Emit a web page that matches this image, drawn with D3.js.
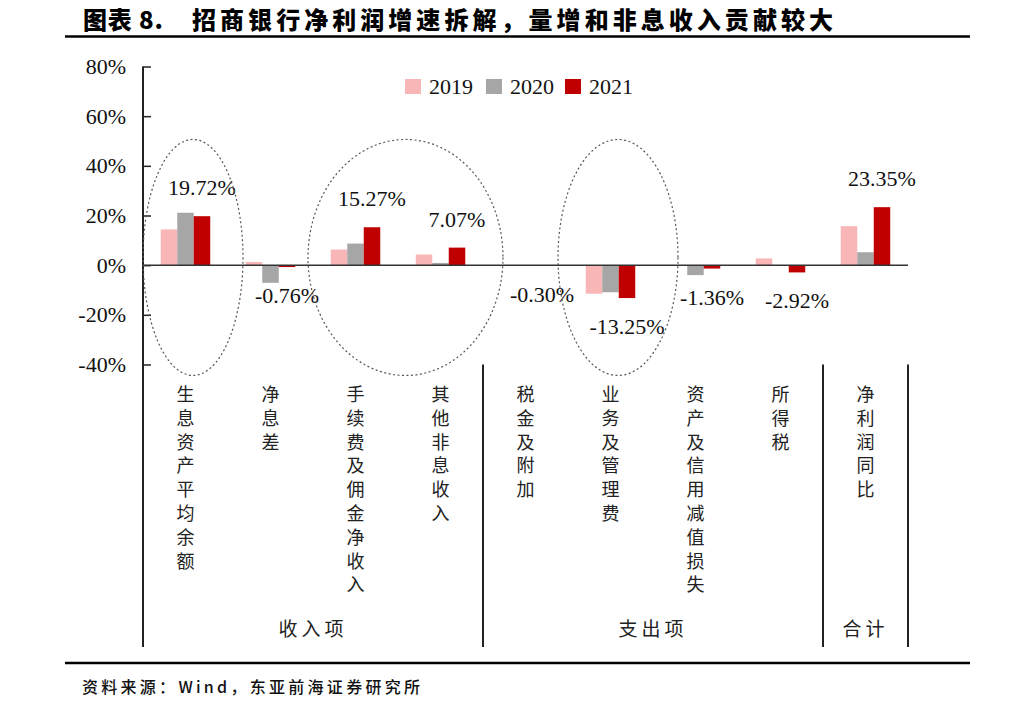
<!DOCTYPE html>
<html>
<head>
<meta charset="utf-8">
<script src="https://cdn.jsdelivr.net/npm/d3@7"></script>
<style>
  html, body { margin: 0; padding: 0; background: #fff; }
  svg { display: block; }
</style>
</head>
<body>
<svg id="chart" width="1034" height="710"></svg>
<script>
// ---------- data ----------
const categories = ["生息资产平均余额", "净息差", "手续费及佣金净收入", "其他非息收入",
                    "税金及附加", "业务及管理费", "资产及信用减值损失", "所得税", "净利润同比"];
const series = ["2019", "2020", "2021"];
const values2019 = [14.4, 1.3, 6.3, 4.3, -0.1, -11.5, 0.0, 2.7, 15.7];
const values2020 = [21.1, -7.1, 8.7, 0.9, -0.2, -10.9, -4.0, -0.3, 5.2];
const values2021 = [19.72, -0.76, 15.27, 7.07, -0.30, -13.25, -1.36, -2.92, 23.35];
const yTicks = [-40, -20, 0, 20, 40, 60, 80];
const groups = [
  { name: "收入项", from: 0, to: 3 },
  { name: "支出项", from: 4, to: 7 },
  { name: "合计", from: 8, to: 8 }
];
const highlights = [
  { from: 0, to: 0, rx: 50 },
  { from: 2, to: 3, rx: 97.5 },
  { from: 5, to: 5, rx: 60 }
];
const titleNum = "图表 8.";
const titleText = "招商银行净利润增速拆解，量增和非息收入贡献较大";
const sourceText = "资料来源：Wind，东亚前海证券研究所";
const colors = { "2019": "#F8B6B6", "2020": "#A6A6A6", "2021": "#C00000" };

const seriesValues = { "2019": values2019, "2020": values2020, "2021": values2021 };

(function () {
// ---------- layout ----------
const svg = d3.select("#chart");
const plotL = 143, plotR = 908, plotT = 66.5, plotB = 364.5, axisBottom = 647;
const serif = "'Liberation Serif', 'Times New Roman', serif";
const cjk = "'Noto Sans CJK SC', sans-serif";

const x0 = d3.scaleBand().domain(categories).range([plotL, plotR]).padding(0);
const groupW = 49.5;
const x1 = d3.scaleBand().domain(series)
  .range([(x0.bandwidth() - groupW) / 2, (x0.bandwidth() + groupW) / 2]).padding(0);
const y = d3.scaleLinear().domain([-40, 80]).range([plotB, plotT]);

// title
svg.append("text").attr("x", 83).attr("y", 28.5)
  .attr("font-family", cjk).attr("font-weight", 900).attr("font-size", 24)
  .attr("textLength", 80).attr("lengthAdjust", "spacing")
  .attr("fill", "#000").text(titleNum);
svg.append("text").attr("x", 192).attr("y", 28.5)
  .attr("font-family", cjk).attr("font-weight", 900).attr("font-size", 24)
  .attr("textLength", 641).attr("lengthAdjust", "spacing")
  .attr("fill", "#000").text(titleText);
svg.append("line").attr("x1", 65).attr("x2", 970).attr("y1", 36.5).attr("y2", 36.5)
  .attr("stroke", "#000").attr("stroke-width", 2.5);

// footer
svg.append("line").attr("x1", 65).attr("x2", 970).attr("y1", 663).attr("y2", 663)
  .attr("stroke", "#000").attr("stroke-width", 2.5);
svg.append("text").attr("x", 82).attr("y", 686).attr("dominant-baseline", "central")
  .attr("font-family", cjk).attr("font-weight", 500).attr("font-size", 16)
  .attr("textLength", 338).attr("lengthAdjust", "spacing")
  .attr("fill", "#111").text(sourceText);

// y axis
const yAxis = d3.axisRight(y).tickValues(yTicks).tickSize(8).tickFormat("");
const gy = svg.append("g").attr("transform", `translate(${plotL},0)`).call(yAxis);
gy.select(".domain").remove();
gy.selectAll(".tick line").attr("stroke", "#222").attr("stroke-width", 1.5);
svg.append("g").selectAll("text").data(yTicks).join("text")
  .attr("x", 126).attr("y", d => y(d)).attr("dominant-baseline", "central")
  .attr("text-anchor", "end").attr("font-family", serif).attr("font-size", 22)
  .attr("fill", "#111").text(d => d + "%");
svg.append("line").attr("x1", plotL).attr("x2", plotL).attr("y1", y(80)).attr("y2", axisBottom)
  .attr("stroke", "#222").attr("stroke-width", 2);

// separators
const seps = [x0(categories[4]), x0(categories[8]), plotR];
svg.append("g").selectAll("line").data(seps).join("line")
  .attr("x1", d => d).attr("x2", d => d).attr("y1", y(-40)).attr("y2", axisBottom)
  .attr("stroke", "#222").attr("stroke-width", 2);

// bars
const gBars = svg.append("g");
categories.forEach((c, i) => {
  series.forEach(s => {
    const v = seriesValues[s][i];
    gBars.append("rect")
      .attr("x", x0(c) + x1(s))
      .attr("width", x1.bandwidth())
      .attr("y", Math.min(y(v), y(0)))
      .attr("height", Math.abs(y(v) - y(0)))
      .attr("fill", colors[s]);
  });
});

// zero line
svg.append("line").attr("x1", plotL).attr("x2", plotR).attr("y1", y(0)).attr("y2", y(0))
  .attr("stroke", "#333").attr("stroke-width", 1.5);

// data labels (2021)
svg.append("g").selectAll("text").data(categories).join("text")
  .attr("x", (c) => x0(c) + x1("2021") + x1.bandwidth() / 2)
  .attr("y", (c, i) => values2021[i] >= 0 ? y(values2021[i]) - 21 : y(values2021[i]) + 36)
  .attr("text-anchor", "middle").attr("font-family", serif).attr("font-size", 22)
  .attr("fill", "#111").text((c, i) => values2021[i].toFixed(2) + "%");

// highlight ellipses
svg.append("g").selectAll("ellipse").data(highlights).join("ellipse")
  .attr("cx", d => (x0(categories[d.from]) + x0(categories[d.to]) + x0.bandwidth()) / 2 + 7.5)
  .attr("cy", y(3.1)).attr("rx", d => d.rx).attr("ry", 118)
  .attr("fill", "none").attr("stroke", "#555").attr("stroke-width", 1.2)
  .attr("stroke-dasharray", "2,2.5");

// category labels (vertical)
const gCat = svg.append("g");
categories.forEach(c => {
  const cx = x0(c) + x0.bandwidth() / 2;
  Array.from(c).forEach((ch, k) => {
    gCat.append("text").attr("x", cx).attr("y", 393 + k * 23.8)
      .attr("text-anchor", "middle").attr("dominant-baseline", "central")
      .attr("font-family", cjk).attr("font-size", 18).attr("fill", "#222").text(ch);
  });
});

// group labels
svg.append("g").selectAll("text").data(groups).join("text")
  .attr("x", d => (x0(categories[d.from]) + x0(categories[d.to]) + x0.bandwidth()) / 2)
  .attr("y", 627).attr("text-anchor", "middle").attr("dominant-baseline", "central")
  .attr("font-family", cjk).attr("font-size", 19).attr("letter-spacing", 4)
  .attr("fill", "#222").text(d => d.name);

// legend
const legendX = [405, 486, 565];
const lg = svg.append("g");
series.forEach((s, i) => {
  lg.append("rect").attr("x", legendX[i]).attr("y", 79).attr("width", 16).attr("height", 15)
    .attr("fill", colors[s]);
  lg.append("text").attr("x", legendX[i] + 24).attr("y", 94)
    .attr("font-family", serif).attr("font-size", 22).attr("fill", "#111").text(s);
});
})();
</script>
</body>
</html>
